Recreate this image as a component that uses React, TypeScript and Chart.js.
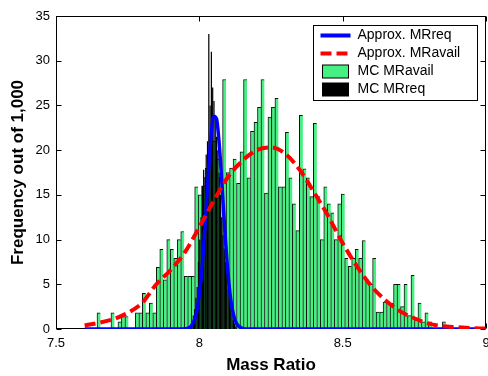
import React, { useEffect, useRef } from 'react';
import { Chart, registerables } from 'chart.js';

Chart.register(...registerables);

// ---- axes ----
const X_MIN = 7.5;
const X_MAX = 9;
const Y_MIN = 0;
const Y_MAX = 35;
const xTickValues = [7.5, 8, 8.5, 9];
const yTickValues = [0, 5, 10, 15, 20, 25, 30, 35];

// ---- text ----
const xTitle = 'Mass Ratio';
const yTitle = 'Frequency out of 1,000';
const seriesLabels = ['Approx. MRreq', 'Approx. MRavail', 'MC MRavail', 'MC MRreq'];

// ---- MC MRavail histogram (100 bins) ----
const availBinStart = 7.643;
const availBinWidth = 0.01217;
const mcAvail = [
  1.8, 0, 0, 0, 1.8, 0, 0.8, 1.4, 1.4, 0,
  0, 1.8, 1.8, 4.0, 1.8, 2.9, 1.8, 6.9, 8.9, 5.5,
  10.0, 8.9, 7.9, 10.0, 10.9, 5.9, 5.9, 5.9, 15.9, 15.0,
  16, 18, 20, 21, 19, 17, 27.9, 17.5, 18.0, 19.0,
  16.3, 19.8, 27.9, 16.9, 22.1, 23.1, 24.8, 27.9, 15.2, 23.7,
  24.8, 25.8, 15.9, 15.9, 22.0, 16.9, 14.0, 11.0, 23.9, 17.9,
  16.9, 14.8, 23.0, 14.8, 10.0, 15.9, 14.0, 13.0, 10.0, 14.0,
  15.1, 7.9, 7.0, 7.9, 8.9, 7.9, 9.9, 5.5, 5.0, 7.9,
  1.9, 1.9, 3.0, 3.0, 2.9, 5.0, 5.0, 2.5, 5.0, 1.5,
  6.0, 1.0, 2.9, 0.8, 1.8, 0.8, 0, 0, 0, 0.8,
];

// ---- MC MRreq histogram (narrow bins) ----
const reqBinStart = 7.9678;
const reqBinWidth = 0.0045;
const mcReq = [
  0.4, 0.8, 1.5, 2.2, 3.5, 4.7, 7.5, 10.0, 12.5, 16.0,
  17.8, 17.0, 19.5, 21.0, 33.0, 25.0, 31.0, 27.0, 25.5, 23.5,
  21.5, 20.0, 17.5, 15.0, 12.5, 10.5, 9.0, 7.5, 6.2, 4.5,
  3.5, 2.5, 1.8, 1.0, 0.6, 0.3,
];

// ---- Approx. MRreq curve ----
const approxReqX = [7.6, 7.93, 7.95, 7.97, 7.99, 8.0, 8.01, 8.02, 8.03, 8.04, 8.05, 8.06, 8.07, 8.08, 8.09, 8.1, 8.11, 8.12, 8.13, 8.15, 8.17, 9.0];
const approxReqY = [0, 0, 0.02, 0.27, 1.8, 3.9, 7.0, 11.5, 16.6, 21.2, 23.8, 23.5, 20.4, 15.6, 10.5, 6.2, 3.2, 1.5, 0.6, 0.07, 0, 0];

// ---- Approx. MRavail curve ----
const approxAvailX = [7.6, 7.65, 7.7, 7.75, 7.8, 7.85, 7.9, 7.95, 8.0, 8.05, 8.1, 8.15, 8.2, 8.25, 8.3, 8.35, 8.4, 8.45, 8.5, 8.55, 8.6, 8.65, 8.7, 8.75, 8.8, 8.85, 8.9, 8.95, 9.0];
const approxAvailY = [0.4, 0.7, 1.1, 1.8, 2.9, 5.0, 6.6, 8.6, 11.4, 14.3, 17.0, 18.8, 20.0, 20.3, 19.6, 17.8, 15.3, 12.6, 9.6, 7.0, 4.8, 3.2, 2.0, 1.2, 0.6, 0.3, 0.2, 0.1, 0.05];

// ---- styles ----
const BLUE = '#0000ff';
const RED = '#ff0000';
const GREEN = 'rgb(70,240,130)';
const BLACK = '#000000';
const FONT = "'Liberation Sans', Arial, sans-serif";
const DASH = [11, 5];

const toPoints = (xs: number[], ys: number[]) => xs.map((x, i) => ({ x, y: ys[i] }));
const toBins = (start: number, width: number, ys: number[]) =>
  ys.map((y, i) => ({ x: start + (i + 0.5) * width, y }));

const framePlugin = {
  id: 'matlabFrame',
  beforeDatasetsDraw(chart: any) {
    const { ctx, chartArea: a, scales } = chart;
    const L = Math.round(a.left) + 0.5;
    const R = Math.round(a.right) - 0.5;
    const T = Math.round(a.top) + 0.5;
    const B = Math.round(a.bottom) - 0.5;
    ctx.save();
    ctx.strokeStyle = '#000';
    ctx.lineWidth = 1;
    ctx.strokeRect(L, T, R - L, B - T);
    const tl = 5;
    ctx.beginPath();
    xTickValues.forEach((v) => {
      const px = Math.round(scales.x.getPixelForValue(v)) + 0.5;
      ctx.moveTo(px, B); ctx.lineTo(px, B - tl);
      ctx.moveTo(px, T); ctx.lineTo(px, T + tl);
    });
    yTickValues.forEach((v) => {
      const py = Math.round(scales.y.getPixelForValue(v)) + 0.5;
      ctx.moveTo(L, py); ctx.lineTo(L + tl, py);
      ctx.moveTo(R, py); ctx.lineTo(R - tl, py);
    });
    ctx.stroke();
    ctx.restore();
  },
};

const legendPlugin = {
  id: 'matlabLegend',
  afterDraw(chart: any) {
    const { ctx, chartArea: a } = chart;
    const w = 164, h = 75;
    const x0 = Math.round(a.right) - 9 - w + 0.5;
    const y0 = Math.round(a.top) + 9 + 0.5;
    ctx.save();
    ctx.fillStyle = '#fff';
    ctx.fillRect(x0, y0, w, h);
    ctx.strokeStyle = '#000';
    ctx.lineWidth = 1;
    ctx.strokeRect(x0, y0, w, h);
    const ds = chart.data.datasets;
    ds.forEach((d: any, i: number) => {
      const cy = y0 + 10 + i * 18;
      const sx = x0 + 7;
      if (d.type === 'line') {
        ctx.beginPath();
        ctx.strokeStyle = d.borderColor;
        ctx.lineWidth = 4;
        ctx.setLineDash(d.borderDash || []);
        ctx.moveTo(sx, cy);
        ctx.lineTo(sx + 30, cy);
        ctx.stroke();
        ctx.setLineDash([]);
      } else {
        ctx.fillStyle = d.backgroundColor;
        ctx.fillRect(sx + 2, cy - 6.5, 26, 13);
        ctx.strokeStyle = '#000';
        ctx.lineWidth = 1;
        ctx.strokeRect(sx + 2, cy - 6.5, 26, 13);
      }
      ctx.fillStyle = '#000';
      ctx.font = `14px ${FONT}`;
      ctx.textBaseline = 'middle';
      ctx.textAlign = 'left';
      ctx.fillText(d.label, x0 + 44, cy);
    });
    ctx.restore();
  },
};

export default function App() {
  const ref = useRef<HTMLCanvasElement>(null);

  useEffect(() => {
    const canvas = ref.current;
    if (!canvas) return;
    const chart = new Chart(canvas, {
      type: 'bar',
      data: {
        datasets: [
          {
            type: 'line',
            label: seriesLabels[0],
            data: toPoints(approxReqX, approxReqY),
            borderColor: BLUE,
            backgroundColor: BLUE,
            borderWidth: 3.5,
            pointRadius: 0,
            cubicInterpolationMode: 'monotone',
            xAxisID: 'x',
            order: 1,
          } as any,
          {
            type: 'line',
            label: seriesLabels[1],
            data: toPoints(approxAvailX, approxAvailY),
            borderColor: RED,
            backgroundColor: RED,
            borderWidth: 4,
            borderDash: DASH,
            pointRadius: 0,
            cubicInterpolationMode: 'monotone',
            xAxisID: 'x',
            order: 0,
          } as any,
          {
            type: 'bar',
            label: seriesLabels[2],
            data: toBins(availBinStart, availBinWidth, mcAvail),
            backgroundColor: GREEN,
            borderColor: '#111',
            borderWidth: { top: 1, left: 1, right: 0, bottom: 0 },
            borderSkipped: false,
            barPercentage: 1,
            categoryPercentage: 1,
            grouped: false,
            xAxisID: 'x',
            order: 3,
          } as any,
          {
            type: 'bar',
            label: seriesLabels[3],
            data: toBins(reqBinStart, reqBinWidth, mcReq),
            backgroundColor: BLACK,
            borderWidth: 0,
            barPercentage: 1,
            categoryPercentage: 0.95,
            grouped: false,
            xAxisID: 'x2',
            order: 2,
          } as any,
        ],
      },
      options: {
        responsive: false,
        animation: false,
        devicePixelRatio: 1,
        events: [],
        layout: { padding: { top: 16, right: 2, left: 0, bottom: 0 } },
        plugins: {
          legend: { display: false },
          tooltip: { enabled: false },
        },
        scales: {
          x: {
            type: 'linear',
            position: 'bottom',
            min: X_MIN,
            max: X_MAX,
            offset: false,
            grid: { display: false, drawTicks: false, offset: false },
            border: { display: false },
            ticks: {
              stepSize: 0.5,
              padding: 7,
              color: '#000',
              font: { family: FONT, size: 13 },
              maxRotation: 0,
              autoSkip: false,
              callback: (v: any) => String(Number(v)),
            },
            title: {
              display: true,
              text: xTitle,
              color: '#000',
              font: { family: FONT, size: 17, weight: 'bold' },
              padding: { top: 0, bottom: 0 },
            },
            afterFit: (s: any) => {
              s.height = 47;
              s.paddingLeft = 0;
              s.paddingRight = 0;
            },
          },
          x2: {
            type: 'linear',
            display: false,
            min: X_MIN,
            max: X_MAX,
            offset: false,
            grid: { offset: false },
          },
          y: {
            type: 'linear',
            min: Y_MIN,
            max: Y_MAX,
            grid: { display: false, drawTicks: false },
            border: { display: false },
            ticks: {
              stepSize: 5,
              padding: 6,
              color: '#000',
              font: { family: FONT, size: 13 },
            },
            title: {
              display: true,
              text: yTitle,
              color: '#000',
              font: { family: FONT, size: 17, weight: 'bold' },
              padding: { top: 8, bottom: 0 },
            },
            afterFit: (s: any) => {
              s.width = 56;
              s.paddingTop = 0;
              s.paddingBottom = 0;
            },
          },
        },
      } as any,
      plugins: [framePlugin, legendPlugin],
    });
    return () => chart.destroy();
  }, []);

  return (
    <div style={{ position: 'fixed', left: 0, top: 0, width: 488, height: 376, background: '#fff' }}>
      <canvas ref={ref} width={488} height={376} style={{ display: 'block', width: 488, height: 376 }} />
    </div>
  );
}
